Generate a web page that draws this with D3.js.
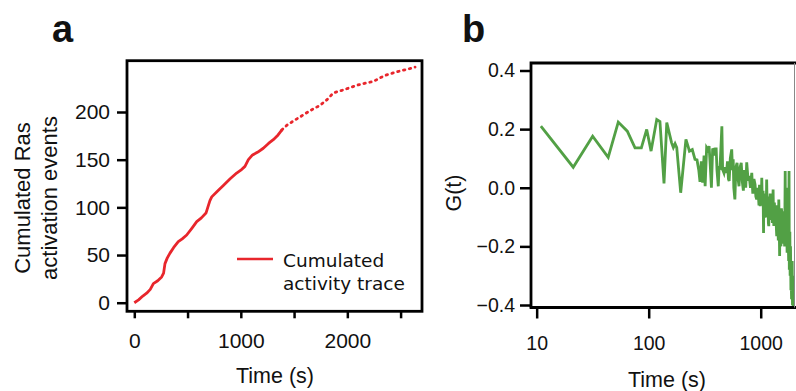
<!DOCTYPE html>
<html>
<head>
<meta charset="utf-8">
<script src="https://cdn.jsdelivr.net/npm/d3@7"></script>
<style>
  body { margin: 0; background: #fff; }
  svg { display: block; }
  text { font-family: "Liberation Sans", Arial, sans-serif; fill: #111; }
</style>
</head>
<body>
<svg id="chart" width="796" height="391"></svg>
<script>
const cumTrace = [
  [0, 0], [40, 3], [80, 7], [116, 10], [150, 14], [179, 20], [220, 23], [257, 27],
  [275, 31], [288, 41], [310, 47], [335, 52], [370, 58], [413, 64], [450, 67],
  [492, 71], [540, 78], [586, 85], [630, 89], [673, 94], [690, 100], [710, 107],
  [727, 111], [780, 117], [836, 123], [900, 130], [961, 136], [1000, 139], [1039, 143],
  [1071, 150], [1110, 155], [1160, 158], [1211, 162], [1260, 167], [1305, 171],
  [1350, 176], [1384, 181]
];
const cumTraceSparse = [
  [1384, 181], [1431, 186], [1500, 191], [1587, 197], [1660, 202], [1744, 207],
  [1810, 213], [1869, 220], [1960, 223], [2088, 228], [2160, 230], [2244, 232],
  [2310, 236], [2370, 239], [2430, 241], [2495, 243], [2570, 245], [2636, 247]
];
const xTicksA = [0, 500, 1000, 1500, 2000, 2500];
const xLabelsA = [0, 1000, 2000];
const yTicksA = [0, 50, 100, 150, 200];

// panel b: G(t) against lag time (s)
const gTrace = [
  [10.9, 0.21], [21.2, 0.07], [31.6, 0.176], [43.5, 0.104], [53.5, 0.224], [64.4, 0.193],
  [75.5, 0.136], [86, 0.136], [96, 0.199], [105, 0.125], [118, 0.233], [126, 0.226],
  [137, 0.015], [145, 0.222], [160, 0.154], [166, 0.137], [172, 0.15], [178, 0.137],
  [193, -0.017], [215, 0.165], [225, 0.14], [231, 0.125], [245, 0.13], [259, 0.097],
  [270, 0.095], [280, 0.06], [287, 0.02], [295, 0.09], [303, 0.017], [312, 0.11],
  [319, 0.005], [329, 0.137], [338, 0.13], [346, 0.142], [354, 0.08], [363, 0.0],
  [372, 0.13], [380, 0.131], [390, 0.11], [400, 0.137], [407, 0.06], [418, 0.005],
  [425, 0.07], [433, 0.068], [450, 0.21], [457, 0.062], [470, 0.05], [480, 0.07],
  [495, 0.051], [505, 0.09], [515, 0.03], [523, 0.023], [535, 0.1], [551, 0.131],
  [560, 0.06], [568, 0.097], [575, 0.0], [588, -0.04], [600, 0.07], [615, 0.085],
  [628, 0.03], [640, 0.005], [655, 0.07], [670, 0.085], [685, 0.02], [700, -0.01],
  [715, 0.06], [735, 0.0], [750, 0.087], [770, 0.03], [792, 0.034], [810, 0.0],
  [832, 0.051], [850, -0.02], [870, 0.03], [890, 0.011], [905, -0.03], [920, -0.04],
  [935, 0.0], [954, -0.029], [965, -0.06], [975, 0.01], [990, -0.063], [1000, -0.02],
  [1010, -0.06], [1022, 0.034], [1030, -0.03], [1040, -0.05], [1050, -0.01],
  [1060, -0.154], [1065, -0.04], [1070, -0.051], [1078, -0.1], [1085, -0.03],
  [1092, -0.09], [1100, -0.102], [1110, -0.02], [1120, -0.08], [1130, 0.028],
  [1140, -0.06], [1150, -0.1], [1160, -0.03], [1170, -0.12], [1180, -0.131],
  [1190, -0.04], [1200, -0.085], [1215, -0.02], [1230, -0.11], [1245, -0.05],
  [1255, -0.046], [1270, -0.12], [1290, -0.006], [1300, -0.1], [1310, -0.13],
  [1325, -0.05], [1340, -0.12], [1355, -0.08], [1370, -0.097], [1380, -0.14],
  [1390, -0.165], [1400, -0.06], [1420, -0.1], [1435, -0.18], [1450, -0.04],
  [1465, -0.15], [1475, -0.233], [1485, -0.1], [1500, -0.12], [1515, -0.2],
  [1530, -0.07], [1545, -0.091], [1560, -0.19], [1580, -0.176], [1600, -0.08],
  [1620, -0.15], [1635, -0.2], [1654, 0.057], [1665, -0.18], [1680, -0.1],
  [1690, -0.2], [1705, -0.12], [1720, -0.222], [1735, -0.14], [1750, 0.0],
  [1760, -0.15], [1775, -0.25], [1790, 0.057], [1800, -0.28], [1807, -0.211],
  [1820, -0.15], [1830, -0.3], [1845, -0.2], [1860, -0.35], [1870, -0.3],
  [1885, -0.38], [1897, -0.37], [1910, -0.25], [1920, -0.4], [1930, -0.3],
  [1945, -0.41], [1960, -0.404]
];
const xTicksB = [10, 100, 1000];
const yTicksB = [-0.4, -0.2, 0, 0.2, 0.4];

const RED = '#e8262c';
const GREEN = '#52a045';

const svg = d3.select('#chart');

// ---------- panel a ----------
const xa = d3.scaleLinear().domain([-68.5, 2701]).range([127, 422]);
const ya = d3.scaleLinear().domain([-9, 253.8]).range([311.3, 60.7]);

const ga = svg.append('g');

ga.append('g')
  .attr('transform', 'translate(0,311.3)')
  .call(d3.axisBottom(xa).tickValues(xTicksA).tickSize(7).tickPadding(15)
    .tickFormat(d => xLabelsA.includes(d) ? d : ''))
  .call(g => g.select('.domain').remove())
  .call(g => g.selectAll('line').attr('stroke', '#000').attr('stroke-width', 2.5))
  .call(g => g.selectAll('text').style('font-size', '21px').attr('fill', '#111'));

ga.append('g')
  .attr('transform', 'translate(127,0)')
  .call(d3.axisLeft(ya).tickValues(yTicksA).tickSize(10).tickPadding(7))
  .call(g => g.select('.domain').remove())
  .call(g => g.selectAll('line').attr('stroke', '#000').attr('stroke-width', 2.5))
  .call(g => g.selectAll('text').style('font-size', '21px').attr('fill', '#111'));

ga.append('rect')
  .attr('x', 127).attr('y', 60.7)
  .attr('width', 422 - 127).attr('height', 311.3 - 60.7)
  .attr('fill', 'none').attr('stroke', '#000').attr('stroke-width', 2.8);

const lineA = d3.line().x(d => xa(d[0])).y(d => ya(d[1]));

ga.append('path')
  .datum(cumTrace)
  .attr('d', lineA)
  .attr('fill', 'none').attr('stroke', RED).attr('stroke-width', 2.8)
  .attr('stroke-linejoin', 'round');

ga.append('path')
  .datum(cumTraceSparse)
  .attr('d', lineA)
  .attr('fill', 'none').attr('stroke', RED).attr('stroke-width', 2.8)
  .attr('stroke-linecap', 'round')
  .attr('stroke-dasharray', '1.5,4.5');

// legend
ga.append('line')
  .attr('x1', 237).attr('x2', 273).attr('y1', 259).attr('y2', 259)
  .attr('stroke', RED).attr('stroke-width', 2.6);
const leg = ga.append('text')
  .attr('x', 283).attr('y', 267)
  .style('font-family', '"DejaVu Sans", Verdana, sans-serif')
  .style('font-size', '18.5px');
leg.append('tspan').attr('x', 283).text('Cumulated');
leg.append('tspan').attr('x', 283).attr('dy', 23).text('activity trace');

ga.append('text')
  .attr('x', 275).attr('y', 383)
  .attr('text-anchor', 'middle')
  .style('font-size', '21.5px')
  .text('Time (s)');

const yla = ga.append('text')
  .attr('transform', 'translate(0,198) rotate(-90)')
  .attr('text-anchor', 'middle')
  .style('font-size', '22px');
yla.append('tspan').attr('x', 0).attr('y', 30).text('Cumulated Ras');
yla.append('tspan').attr('x', 0).attr('y', 57).text('activation events');

ga.append('text')
  .attr('x', 52).attr('y', 42)
  .style('font-size', '38px').style('font-weight', 'bold')
  .text('a');

// ---------- panel b ----------
const xb = d3.scaleLog().domain([8.9, 1982]).range([531, 794]);
const yb = d3.scaleLinear().domain([-0.4085, 0.4256]).range([307.5, 63]);

const gb = svg.append('g');

gb.append('g')
  .attr('transform', 'translate(0,307.5)')
  .call(d3.axisBottom(xb).tickValues(xTicksB).tickSize(11).tickPadding(18)
    .tickFormat(d3.format('d')))
  .call(g => g.select('.domain').remove())
  .call(g => g.selectAll('line').attr('stroke', '#000').attr('stroke-width', 2.5))
  .call(g => g.selectAll('text').style('font-size', '19.5px').attr('fill', '#111'));

gb.append('g')
  .attr('transform', 'translate(531,0)')
  .call(d3.axisLeft(yb).tickValues(yTicksB).tickSize(11).tickPadding(5)
    .tickFormat(d3.format('.1f')))
  .call(g => g.select('.domain').remove())
  .call(g => g.selectAll('line').attr('stroke', '#000').attr('stroke-width', 2.5))
  .call(g => g.selectAll('text').style('font-size', '19.5px').attr('fill', '#111'));

gb.append('path')
  .datum(gTrace)
  .attr('d', d3.line().x(d => xb(d[0])).y(d => yb(d[1])))
  .attr('fill', 'none').attr('stroke', GREEN).attr('stroke-width', 2.8)
  .attr('stroke-linejoin', 'miter');

gb.append('path')
  .attr('d', `M531,307.5 L531,63 L800,63`)
  .attr('fill', 'none').attr('stroke', '#000').attr('stroke-width', 2.8);
gb.append('path')
  .attr('d', `M529.6,307.5 L796,307.5`)
  .attr('fill', 'none').attr('stroke', '#000').attr('stroke-width', 2.8);
gb.append('line')
  .attr('x1', 794.5).attr('x2', 794.5).attr('y1', 63).attr('y2', 307.5)
  .attr('stroke', '#888').attr('stroke-width', 1);

gb.append('text')
  .attr('x', 667).attr('y', 387)
  .attr('text-anchor', 'middle')
  .style('font-size', '21.5px')
  .text('Time (s)');

gb.append('text')
  .attr('transform', 'translate(461,193) rotate(-90)')
  .attr('text-anchor', 'middle')
  .style('font-size', '21.5px')
  .text('G(t)');

gb.append('text')
  .attr('x', 462).attr('y', 42)
  .style('font-size', '38px').style('font-weight', 'bold')
  .text('b');
</script>
</body>
</html>
